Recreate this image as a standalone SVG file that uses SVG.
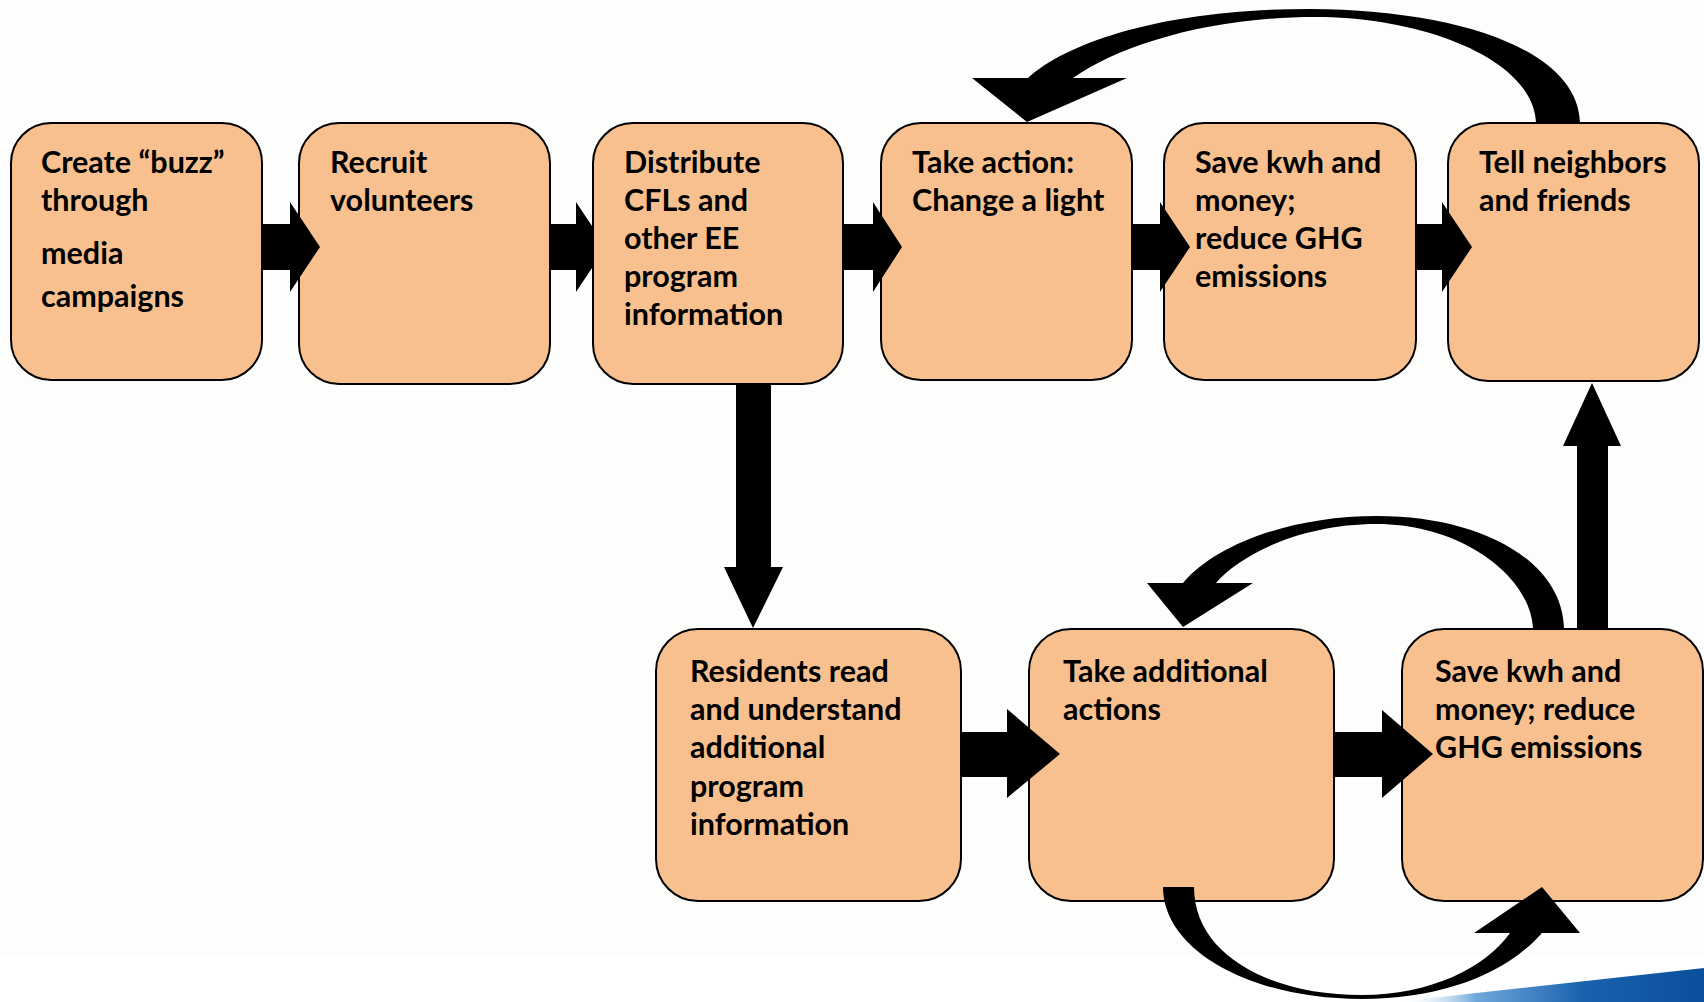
<svg xmlns="http://www.w3.org/2000/svg" width="1704" height="1002" viewBox="0 0 1704 1002">
  <defs>
    <style>
      .box { fill: #F9C08F; stroke: #000; stroke-width: 2; }
      .lbl { font-family: Lato, "Open Sans", "Liberation Sans", sans-serif; font-weight: bold; font-size: 30.5px; fill: #000; }
      .conn { fill: #000; stroke: none; }
    </style>
    <linearGradient id="swoosh" x1="1400" y1="0" x2="1704" y2="0" gradientUnits="userSpaceOnUse">
      <stop offset="0" stop-color="#ffffff" stop-opacity="0"/>
      <stop offset="0.25" stop-color="#6fa8dc"/>
      <stop offset="0.6" stop-color="#1a62ae"/>
      <stop offset="1" stop-color="#0a4f9c"/>
    </linearGradient>
  </defs>

  <rect x="0" y="0" width="1704" height="1002" fill="#FDFDFB"/>
  <rect x="0" y="956" width="1704" height="46" fill="#FFFFFF"/>
  <path d="M1396,1002 Q1540,986 1704,968 L1704,1002 Z" fill="url(#swoosh)"/>

  <g id="node-buzz">
    <rect class="box" x="11" y="123" width="251" height="257" rx="40"/>
    <text class="lbl"><tspan x="41" y="173">Create “buzz”</tspan><tspan x="41" y="211">through</tspan><tspan x="41" y="264">media</tspan><tspan x="41" y="307">campaigns</tspan></text>
  </g>
  <g id="node-recruit">
    <rect class="box" x="299" y="123" width="251" height="261" rx="40"/>
    <text class="lbl"><tspan x="330" y="173">Recruit</tspan><tspan x="330" y="211">volunteers</tspan></text>
  </g>
  <g id="node-distribute">
    <rect class="box" x="593" y="123" width="250" height="261" rx="40"/>
    <text class="lbl"><tspan x="624" y="173">Distribute</tspan><tspan x="624" y="211">CFLs and</tspan><tspan x="624" y="249">other EE</tspan><tspan x="624" y="287">program</tspan><tspan x="624" y="325">information</tspan></text>
  </g>
  <g id="node-take-action">
    <rect class="box" x="881" y="123" width="251" height="257" rx="40"/>
    <text class="lbl"><tspan x="912" y="173">Take action:</tspan><tspan x="912" y="211">Change a light</tspan></text>
  </g>
  <g id="node-save1">
    <rect class="box" x="1164" y="123" width="252" height="257" rx="40"/>
    <text class="lbl"><tspan x="1195" y="173">Save kwh and</tspan><tspan x="1195" y="211">money;</tspan><tspan x="1195" y="249">reduce GHG</tspan><tspan x="1195" y="287">emissions</tspan></text>
  </g>
  <g id="node-tell">
    <rect class="box" x="1448" y="123" width="251" height="258" rx="40"/>
    <text class="lbl"><tspan x="1479" y="173">Tell neighbors</tspan><tspan x="1479" y="211">and friends</tspan></text>
  </g>
  <g id="node-residents">
    <rect class="box" x="656" y="629" width="305" height="272" rx="42"/>
    <text class="lbl"><tspan x="690" y="682">Residents read</tspan><tspan x="690" y="720">and understand</tspan><tspan x="690" y="758">additional</tspan><tspan x="690" y="797">program</tspan><tspan x="690" y="835">information</tspan></text>
  </g>
  <g id="node-additional">
    <rect class="box" x="1029" y="629" width="305" height="272" rx="42"/>
    <text class="lbl"><tspan x="1063" y="682">Take additional</tspan><tspan x="1063" y="720">actions</tspan></text>
  </g>
  <g id="node-save2">
    <rect class="box" x="1402" y="629" width="301" height="272" rx="42"/>
    <text class="lbl"><tspan x="1435" y="682">Save kwh and</tspan><tspan x="1435" y="720">money; reduce</tspan><tspan x="1435" y="758">GHG emissions</tspan></text>
  </g>

  <g id="connectors">
    <polygon class="conn" points="262,224 290,224 290,202 320,247 290,292 290,270 262,270"/>
    <polygon class="conn" points="550,224 576,224 576,202 592,226 592,268 576,292 576,270 550,270"/>
    <polygon class="conn" points="843,224 873,224 873,202 902,247 873,292 873,270 843,270"/>
    <polygon class="conn" points="1132,224 1160,224 1160,202 1190,247 1160,292 1160,270 1132,270"/>
    <polygon class="conn" points="1416,224 1442,224 1442,202 1472,247 1442,292 1442,270 1416,270"/>
    <polygon class="conn" points="736,384 771,384 771,567 783,567 753,628 724,567 736,567"/>
    <polygon class="conn" points="962,732 1007,732 1007,709 1060,754 1007,798 1007,777 962,777"/>
    <polygon class="conn" points="1334,732 1382,732 1382,710 1433,754 1382,798 1382,777 1334,777"/>
    <polygon class="conn" points="1577,629 1608,629 1608,446 1621,446 1592,383 1563,446 1577,446"/>
    <path class="conn" d="M1580,123 C1578,50 1460,10 1310,9 C1170,9 1070,40 1028,78 L972,78 L1027,122 L1127,78 L1073,78 C1120,45 1210,17 1315,17 C1425,17 1534,60 1536,123 Z"/>
    <path class="conn" d="M1564,628 C1562,560 1480,516 1377,516 C1290,516 1215,545 1183,583 L1147,583 L1183,627 L1253,583 L1216,583 C1240,555 1300,524 1377,524 C1460,524 1530,575 1533,628 Z"/>
    <path class="conn" d="M1163,887 C1163,950 1250,999 1362,999 C1440,999 1505,975 1542,933 L1580,933 L1542,887 L1474,933 L1510,933 C1485,968 1430,995 1362,995 C1270,995 1194,955 1194,887 Z"/>
  </g>
</svg>
